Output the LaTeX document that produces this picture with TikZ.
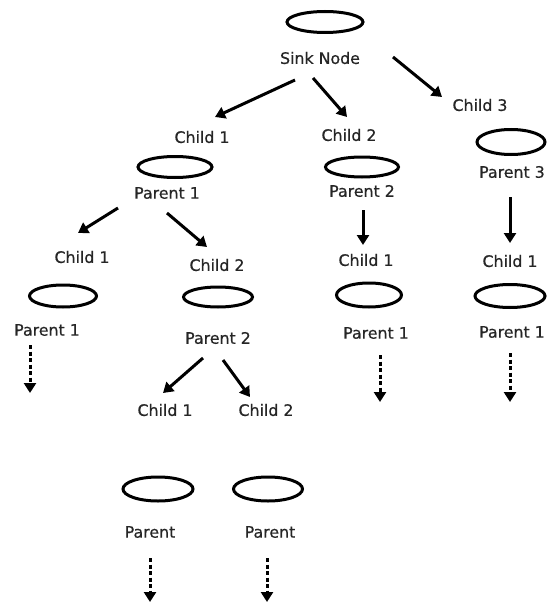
\documentclass[tikz,border=0pt]{standalone}
\usepackage{fontspec}
\setmainfont{DejaVu Sans}
\newfontfamily\lblfont{DejaVu Sans}[FakeBold=0.6]
\usetikzlibrary{shapes.geometric,arrows.meta}
\tikzset{
  ring/.style={draw, ellipse, line width=3pt, inner sep=0pt},
  lbl/.style={font=\lblfont\fontsize{15.8}{18}\selectfont, inner sep=0pt, text=black!85},
  link/.style={line width=3pt, -{Triangle[length=10pt,width=12pt]}},
  more/.style={line width=3pt, dash pattern=on 4pt off 2.5pt, -{Triangle[length=10pt,width=12pt]}}
}
\begin{document}
\begin{tikzpicture}[x=1pt,y=-1pt]
\useasboundingbox (0,0) rectangle (547,607);
% sink
\node[ring, minimum width=76pt, minimum height=21pt] (sink) at (325,22) {};
\node[lbl] (sinkT) at (320,58) {Sink Node};
% first level
\node[lbl] (c1T) at (202,137) {Child 1};
\node[lbl] (c2T) at (349,135) {Child 2};
\node[lbl] (c3T) at (480,105) {Child 3};
\node[ring, minimum width=74pt, minimum height=21pt] (p1E) at (175,167) {};
\node[lbl] (p1T) at (167,193) {Parent 1};
\node[ring, minimum width=73pt, minimum height=20pt] (p2E) at (362,167) {};
\node[lbl] (p2T) at (362,191) {Parent 2};
\node[ring, minimum width=68pt, minimum height=25pt] (p3E) at (511,142) {};
\node[lbl, anchor=east] (p3T) at (545,172) {Parent 3};
% below parent 1
\node[lbl] (c11T) at (82,257) {Child 1};
\node[lbl] (c12T) at (217,265) {Child 2};
\node[ring, minimum width=67pt, minimum height=22pt] (p11E) at (63,296) {};
\node[lbl] (p11T) at (47,330) {Parent 1};
\node[ring, minimum width=69pt, minimum height=20pt] (p12E) at (218,297) {};
\node[lbl] (p12T) at (218,338) {Parent 2};
% below parent 2 of child 2
\node[lbl] (c121T) at (165,410) {Child 1};
\node[lbl] (c122T) at (266,410) {Child 2};
\node[ring, minimum width=70pt, minimum height=24pt] (p121E) at (158,489) {};
\node[ring, minimum width=69pt, minimum height=24pt] (p122E) at (268,489) {};
\node[lbl] (p121T) at (150,532) {Parent};
\node[lbl] (p122T) at (270,532) {Parent};
% below parent 2
\node[lbl] (c21T) at (366,260) {Child 1};
\node[ring, minimum width=65pt, minimum height=24pt] (p21E) at (369,295) {};
\node[lbl] (p21T) at (376,333) {Parent 1};
% below parent 3
\node[lbl] (c31T) at (510,261) {Child 1};
\node[ring, minimum width=70pt, minimum height=23pt] (p31E) at (510,296) {};
\node[lbl, anchor=east] (p31T) at (545,332) {Parent 1};

% connector ends
\coordinate (a1s) at (295,80);  \coordinate (a1e) at (215,117);
\coordinate (a2s) at (313,78);  \coordinate (a2e) at (347,117);
\coordinate (a3s) at (393,57);  \coordinate (a3e) at (442,97);
\coordinate (a4s) at (118,208); \coordinate (a4e) at (78,233);
\coordinate (a5s) at (167,213); \coordinate (a5e) at (207,247);
\coordinate (a6s) at (363,210); \coordinate (a6e) at (363,245);
\coordinate (a7s) at (510,197); \coordinate (a7e) at (510,243);
\coordinate (a8s) at (203,358); \coordinate (a8e) at (163,393);
\coordinate (a9s) at (223,360); \coordinate (a9e) at (250,397);
\coordinate (d1s) at (30,345);  \coordinate (d1e) at (30,393);
\coordinate (d2s) at (380,355); \coordinate (d2e) at (380,402);
\coordinate (d3s) at (510,353); \coordinate (d3e) at (510,402);
\coordinate (d4s) at (150,558); \coordinate (d4e) at (150,602);
\coordinate (d5s) at (267,558); \coordinate (d5e) at (267,602);

\draw[link] (a1s) -- (a1e);
\draw[link] (a2s) -- (a2e);
\draw[link] (a3s) -- (a3e);
\draw[link] (a4s) -- (a4e);
\draw[link] (a5s) -- (a5e);
\draw[link] (a6s) -- (a6e);
\draw[link] (a7s) -- (a7e);
\draw[link] (a8s) -- (a8e);
\draw[link] (a9s) -- (a9e);
\draw[more] (d1s) -- (d1e);
\draw[more] (d2s) -- (d2e);
\draw[more] (d3s) -- (d3e);
\draw[more] (d4s) -- (d4e);
\draw[more] (d5s) -- (d5e);
\end{tikzpicture}
\end{document}
